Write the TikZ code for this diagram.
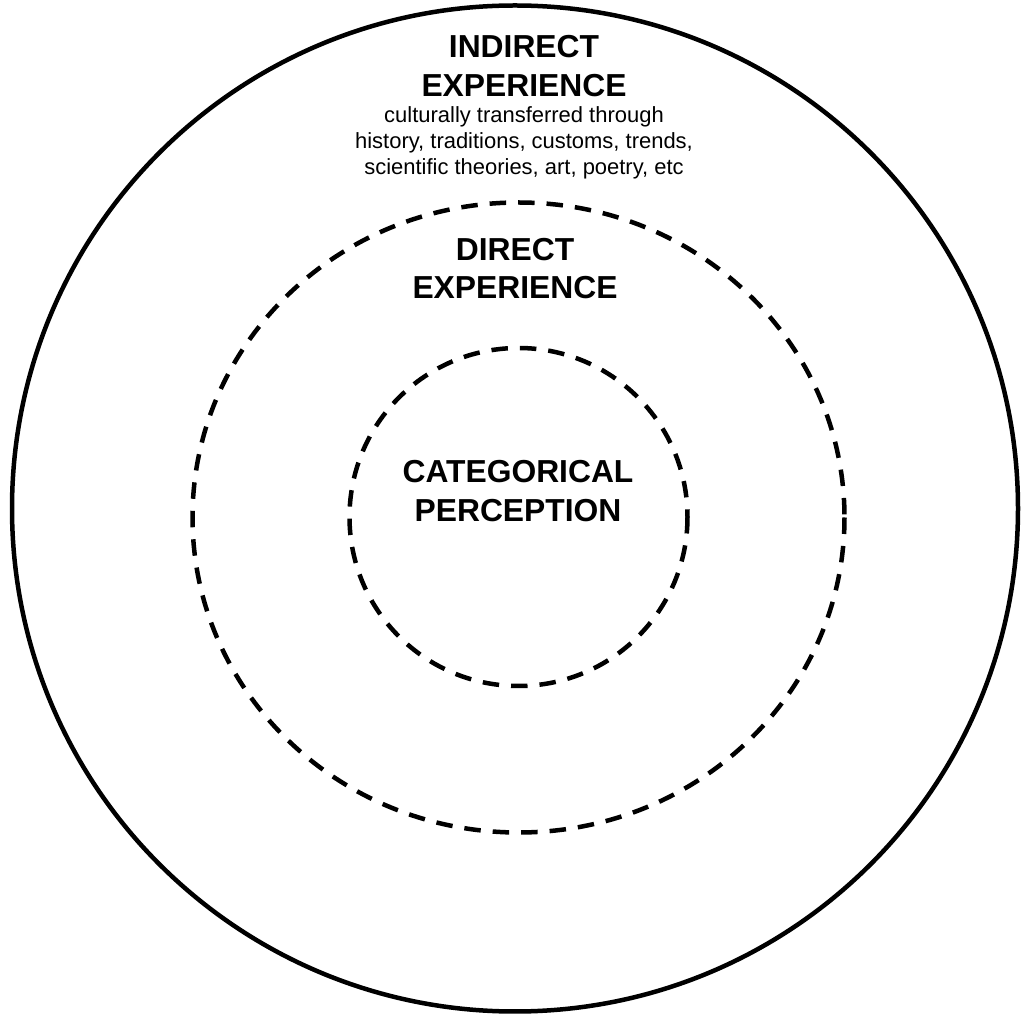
\documentclass[tikz,border=0pt]{standalone}
\usepackage{fontspec}
\setmainfont{Liberation Sans}
\usetikzlibrary{positioning}
\tikzset{
  ring/.style={line width=0.09cm},
  dashring/.style={ring, dash pattern=on 0.33cm off 0.24cm},
  headline/.style={font=\fontsize{18.1}{22}\selectfont\bfseries, align=center, inner sep=0pt},
  noteline/.style={font=\fontsize{12.5}{15}\selectfont, align=center, inner sep=0pt}
}
\begin{document}
\begin{tikzpicture}[x=0.02cm,y=-0.02cm]
\useasboundingbox (0,0) rectangle (1022,1016);
% the three rings
\draw [ring] (515,508.5) circle [radius=503];
\draw [dashring] (518.5,517.5) ellipse [x radius=326, y radius=315];
\draw [dashring] (518.5,517) circle [radius=169];

% labels
\node [headline] (indirect) at (524,66) {INDIRECT\\EXPERIENCE};
\node [noteline, below=0.18cm of indirect] (culture) {culturally transferred through\\history, traditions, customs, trends,\\scientific theories, art, poetry, etc};
\node [headline] (direct) at (515,268.5) {DIRECT\\EXPERIENCE};
\node [headline] (categorical) at (518,491) {CATEGORICAL\\PERCEPTION};
\end{tikzpicture}
\end{document}
